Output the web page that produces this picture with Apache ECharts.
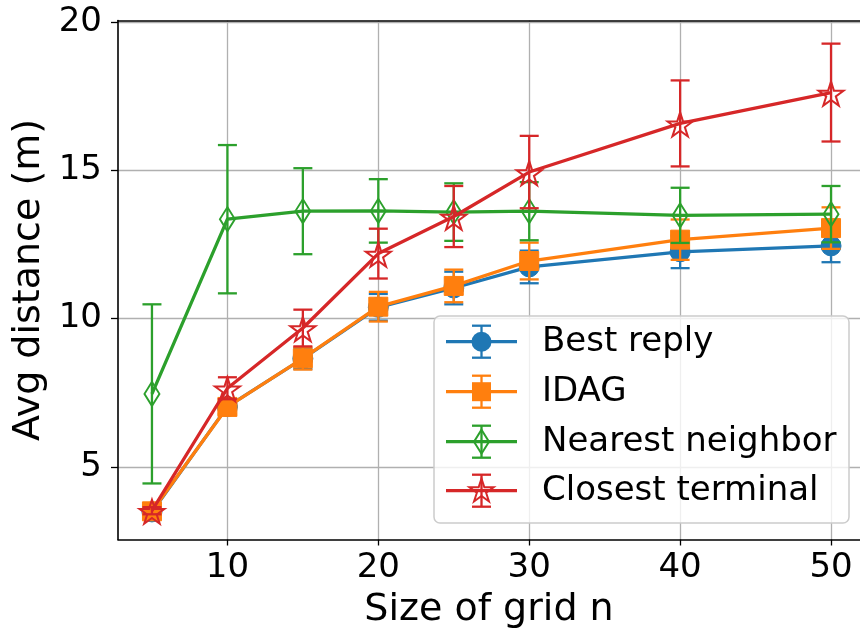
<!DOCTYPE html>
<html>
<head>
<meta charset="utf-8">
<script src="https://cdn.jsdelivr.net/npm/echarts@6/dist/echarts.min.js"></script>
<style>html,body{margin:0;padding:0;background:#fff}#c{width:860px;height:637px}</style>
</head>
<body>
<div id="c"></div>
<script>
const gridSizes = [5, 10, 15, 20, 25, 30, 40, 50];
const bestReply = [3.48, 7.03, 8.65, 10.38, 11.03, 11.74, 12.25, 12.45];
const bestReplyErr = [0.10, 0.25, 0.35, 0.45, 0.55, 0.55, 0.55, 0.55];
const idag = [3.50, 7.02, 8.66, 10.40, 11.10, 11.94, 12.66, 13.05];
const idagErr = [0.10, 0.25, 0.38, 0.50, 0.55, 0.62, 0.68, 0.70];
const nearestNeighbor = [7.46, 13.35, 13.62, 13.63, 13.59, 13.62, 13.48, 13.52];
const nearestNeighborErr = [3.02, 2.50, 1.45, 1.07, 0.97, 0.98, 0.93, 0.95];
const closestTerminal = [3.52, 7.65, 9.68, 12.19, 13.44, 14.94, 16.58, 17.62];
const closestTerminalErr = [0.12, 0.37, 0.62, 0.84, 1.03, 1.22, 1.45, 1.65];
const xTicks = [10, 20, 30, 40, 50];
const yTicks = [5, 10, 15, 20];
const seriesNames = ['Best reply', 'IDAG', 'Nearest neighbor', 'Closest terminal'];

const FONT = 'DejaVu Sans';
const colors = ['#1f77b4', '#ff7f0e', '#2ca02c', '#d62728'];
const STAR_PTS = [[0,-100],[22.45,-30.9],[95.11,-30.9],[36.33,11.8],[58.78,80.9],[0,38.2],[-58.78,80.9],[-36.33,11.8],[-95.11,-30.9],[-22.45,-30.9]];
const STAR = 'path://M' + STAR_PTS.map(p => p[0] + ',' + p[1]).join('L') + 'Z';
const symbols = [
  {symbol: 'circle', size: 20, hollow: false, offset: [0, 0]},
  {symbol: 'rect', size: 19, hollow: false, offset: [0, 0]},
  {symbol: 'diamond', size: [15, 24], hollow: true, offset: [0, 0]},
  {symbol: STAR, size: [25, 24], hollow: true, offset: [0, 1]}
];
const values = [bestReply, idag, nearestNeighbor, closestTerminal];
const errs = [bestReplyErr, idagErr, nearestNeighborErr, closestTerminalErr];

const CAP = 9.5, LW = 3.3, ELW = 2.3;
function errRender(color) {
  return function (params, api) {
    const x = api.value(0), lo = api.value(1), hi = api.value(2);
    const p1 = api.coord([x, lo]), p2 = api.coord([x, hi]);
    const st = {stroke: color, lineWidth: ELW};
    return {type: 'group', children: [
      {type: 'line', shape: {x1: p1[0], y1: p1[1], x2: p2[0], y2: p2[1]}, style: st},
      {type: 'line', shape: {x1: p1[0] - CAP, y1: p1[1], x2: p1[0] + CAP, y2: p1[1]}, style: st},
      {type: 'line', shape: {x1: p2[0] - CAP, y1: p2[1], x2: p2[0] + CAP, y2: p2[1]}, style: st}
    ]};
  };
}

const series = [];
for (let s = 0; s < 4; s++) {
  const c = colors[s];
  series.push({
    type: 'custom', name: seriesNames[s] + ' err', z: 2 + s * 2,
    renderItem: errRender(c), encode: {x: 0, y: [1, 2]},
    data: gridSizes.map((x, i) => [x, values[s][i] - errs[s][i], values[s][i] + errs[s][i]]),
    silent: true
  });
  const sym = symbols[s];
  series.push({
    type: 'line', name: seriesNames[s], z: 3 + s * 2,
    data: gridSizes.map((x, i) => [x, values[s][i]]),
    symbol: sym.symbol, symbolSize: sym.size, symbolOffset: sym.offset, showAllSymbol: true,
    lineStyle: {color: c, width: LW},
    itemStyle: sym.hollow ? {color: 'rgba(0,0,0,0)', borderColor: c, borderWidth: 2, opacity: 1}
                          : {color: c, borderColor: c, borderWidth: 1, opacity: 1},
    emphasis: {disabled: true}, silent: true
  });
}

// legend (drawn as graphic)
const legendX = 434, legendY = 316, legendW = 415, legendH = 207;
const rowY = [341.7, 391.7, 441.7, 490.7];
const gfx = [{
  type: 'rect', shape: {x: legendX, y: legendY, width: legendW, height: legendH, r: 6}, z: 100,
  style: {fill: 'rgba(255,255,255,0.8)', stroke: '#cccccc', lineWidth: 1.5}
}];
const hx0 = 446, hx1 = 517, hm = 481.5;
for (let s = 0; s < 4; s++) {
  const c = colors[s], y = rowY[s];
  const st = {stroke: c, lineWidth: ELW};
  gfx.push({type: 'line', z: 101, shape: {x1: hx0, y1: y, x2: hx1, y2: y}, style: {stroke: c, lineWidth: LW}});
  gfx.push({type: 'line', z: 101, shape: {x1: hm, y1: y - 16, x2: hm, y2: y + 16}, style: st});
  gfx.push({type: 'line', z: 101, shape: {x1: hm - CAP, y1: y - 16, x2: hm + CAP, y2: y - 16}, style: st});
  gfx.push({type: 'line', z: 101, shape: {x1: hm - CAP, y1: y + 16, x2: hm + CAP, y2: y + 16}, style: st});
  if (s === 0) {
    gfx.push({type: 'circle', z: 102, shape: {cx: hm, cy: y, r: 10}, style: {fill: c}});
  } else if (s === 1) {
    gfx.push({type: 'rect', z: 102, shape: {x: hm - 9.5, y: y - 9.5, width: 19, height: 19}, style: {fill: c}});
  } else if (s === 2) {
    gfx.push({type: 'polygon', z: 102, shape: {points: [[hm, y - 12], [hm + 7.5, y], [hm, y + 12], [hm - 7.5, y]]},
      style: {fill: 'none', stroke: c, lineWidth: 2}});
  } else {
    const sc = 0.127;
    gfx.push({type: 'polygon', z: 102, shape: {points: STAR_PTS.map(p => [hm + p[0] * sc, y + p[1] * sc + 0.5])},
      style: {fill: 'none', stroke: c, lineWidth: 2}});
  }
  gfx.push({type: 'text', z: 103, x: 542, y: y,
    style: {text: seriesNames[s], font: '34px "DejaVu Sans"', fill: '#000', verticalAlign: 'middle', align: 'left'}});
}

const X_MIN = 2.75, X_MAX = 51.92;
const chart = echarts.init(document.getElementById('c'), null, {renderer: 'canvas'});
chart.setOption({
  animation: false,
  backgroundColor: '#fff',
  grid: {left: 118, top: 20.5, right: 0, bottom: 97.5, show: false},
  xAxis: [{
    type: 'value', min: X_MIN, max: X_MAX,
    name: 'Size of grid n', nameLocation: 'middle', nameGap: 52,
    nameTextStyle: {fontFamily: FONT, fontSize: 38, color: '#000'},
    axisLine: {show: true, lineStyle: {color: '#000', width: 1.6}},
    axisTick: {show: true, length: 6, lineStyle: {color: '#000', width: 1.3}, customValues: xTicks},
    axisLabel: {fontFamily: FONT, fontSize: 34, color: '#000', margin: 12, customValues: xTicks},
    splitLine: {show: true, lineStyle: {color: '#b0b0b0', width: 1.3}}
  }, {
    type: 'value', position: 'top', min: X_MIN, max: X_MAX,
    axisLine: {show: true, onZero: false, lineStyle: {color: '#000', width: 1.6}},
    axisTick: {show: false}, axisLabel: {show: false}, splitLine: {show: false}
  }],
  yAxis: {
    type: 'value', min: 2.55, max: 20.05,
    name: 'Avg distance (m)', nameLocation: 'middle', nameGap: 60, nameRotate: 90,
    nameTextStyle: {fontFamily: FONT, fontSize: 38, color: '#000'},
    axisLine: {show: true, onZero: false, lineStyle: {color: '#000', width: 1.6}},
    axisTick: {show: true, length: 7, lineStyle: {color: '#000', width: 1.3}, customValues: yTicks},
    axisLabel: {fontFamily: FONT, fontSize: 34, color: '#000', margin: 16, customValues: yTicks},
    splitLine: {show: true, lineStyle: {color: '#b0b0b0', width: 1.3}}
  },
  series: series,
  graphic: gfx
});
</script>
</body>
</html>
